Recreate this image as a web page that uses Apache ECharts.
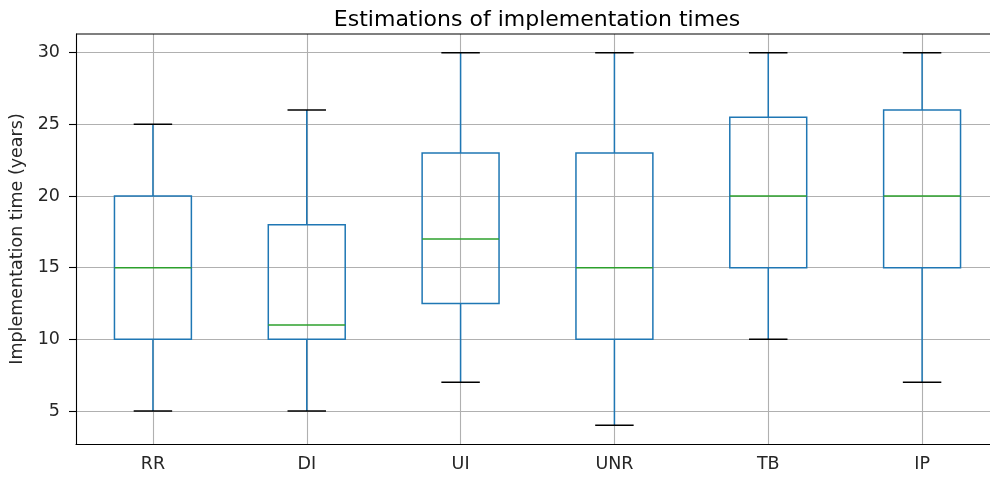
<!DOCTYPE html>
<html><head><meta charset="utf-8">
<script src="https://cdn.jsdelivr.net/npm/echarts@6/dist/echarts.min.js"></script>
<style>html,body{margin:0;padding:0;background:#fff}#c{width:990px;height:477px}</style>
</head><body><div id="c"></div>
<script>
const categories = ['RR', 'DI', 'UI', 'UNR', 'TB', 'IP'];
const whiskerLow = [5, 5, 7, 4, 10, 7];
const q1 = [10, 10, 12.5, 10, 15, 15];
const median = [15, 11, 17, 15, 20, 20];
const q3 = [20, 18, 23, 23, 25.5, 26];
const whiskerHigh = [25, 26, 30, 30, 30, 30];
const yTicks = [5, 10, 15, 20, 25, 30];

const data = categories.map((c, i) => [i, whiskerLow[i], q1[i], median[i], q3[i], whiskerHigh[i]]);
const chart = echarts.init(document.getElementById('c'), null, {renderer: 'canvas'});
const font = '"DejaVu Sans", sans-serif';
chart.setOption({
  animation: false,
  backgroundColor: '#fff',
  title: {
    text: 'Estimations of implementation times',
    left: 532, top: 4, textAlign: 'center',
    textStyle: {fontFamily: font, fontSize: 22, fontWeight: 'normal', color: '#000'}
  },
  grid: {left: 76, top: 34, width: 923, height: 410, outerBoundsMode: 'none', containLabel: false},
  xAxis: {
    type: 'category', data: categories, boundaryGap: true,
    axisLine: {lineStyle: {color: '#000', width: 1.1}},
    axisTick: {alignWithLabel: true, length: 7, lineStyle: {color: '#000', width: 1.1}},
    axisLabel: {fontFamily: font, fontSize: 17.5, color: '#262626', margin: 11},
    splitLine: {show: true, alignWithLabel: true, lineStyle: {color: '#b0b0b0', width: 1.1}}
  },
  yAxis: {
    type: 'value', min: 2.7, max: 31.3,
    name: 'Implementation time (years)', nameLocation: 'middle', nameGap: 44, nameRotate: 90,
    nameTextStyle: {fontFamily: font, fontSize: 17.5, color: '#262626'},
    axisLine: {show: true, lineStyle: {color: '#000', width: 1.1}},
    axisTick: {show: true, length: 7, lineStyle: {color: '#000', width: 1.1}, customValues: yTicks},
    axisLabel: {fontFamily: font, fontSize: 17.5, color: '#262626', margin: 16, customValues: yTicks},
    splitLine: {show: true, lineStyle: {color: '#b0b0b0', width: 1.1}}
  },
  series: [{
    type: 'custom',
    data: data,
    encode: {x: 0, y: [1, 2, 3, 4, 5]},
    clip: false,
    renderItem: function (params, api) {
      const idx = api.value(0);
      const bw = api.size([1, 0])[0];
      const pLow = api.coord([idx, api.value(1)]);
      const pQ1 = api.coord([idx, api.value(2)]);
      const pMed = api.coord([idx, api.value(3)]);
      const pQ3 = api.coord([idx, api.value(4)]);
      const pHigh = api.coord([idx, api.value(5)]);
      const x = pLow[0];
      const hb = bw * 0.25, hc = bw * 0.125;
      const blue = {stroke: '#1f77b4', lineWidth: 1.5, fill: null};
      return {
        type: 'group',
        children: [
          {type: 'line', shape: {x1: x, y1: pLow[1], x2: x, y2: pQ1[1]}, style: blue},
          {type: 'line', shape: {x1: x, y1: pQ3[1], x2: x, y2: pHigh[1]}, style: blue},
          {type: 'rect', shape: {x: x - hb, y: pQ3[1], width: 2 * hb, height: pQ1[1] - pQ3[1]}, style: {stroke: '#1f77b4', lineWidth: 1.5, fill: 'rgba(0,0,0,0)'}},
          {type: 'line', shape: {x1: x - hb, y1: pMed[1], x2: x + hb, y2: pMed[1]}, style: {stroke: '#2ca02c', lineWidth: 1.5}},
          {type: 'line', shape: {x1: x - hc, y1: pLow[1], x2: x + hc, y2: pLow[1]}, style: {stroke: '#000', lineWidth: 1.5}},
          {type: 'line', shape: {x1: x - hc, y1: pHigh[1], x2: x + hc, y2: pHigh[1]}, style: {stroke: '#000', lineWidth: 1.5}}
        ]
      };
    }
  }],
  graphic: [
    {type: 'line', shape: {x1: 76, y1: 34, x2: 999, y2: 34}, style: {stroke: '#000', lineWidth: 1.1}, z: 10}
  ]
});
</script></body></html>
